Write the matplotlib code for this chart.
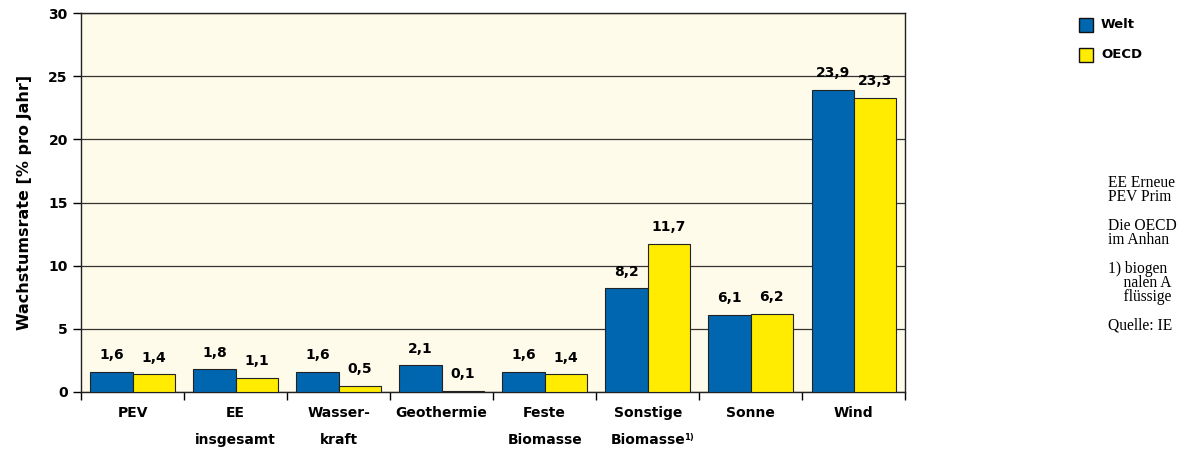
import matplotlib.pyplot as plt
import numpy as np

categories = ['PEV', 'EE\ninsgesamt', 'Wasser-\nkraft', 'Geothermie',
              'Feste\nBiomasse', 'Sonstige\nBiomasse', 'Sonne', 'Wind']
welt = [1.6, 1.8, 1.6, 2.1, 1.6, 8.2, 6.1, 23.9]
oecd = [1.4, 1.1, 0.5, 0.1, 1.4, 11.7, 6.2, 23.3]
notes = ['EE Erneue',
         'PEV Prim',
         '',
         'Die OECD',
         'im Anhan',
         '',
         '1) biogen',
         '    nalen A',
         '    flüssige',
         '',
         'Quelle: IE']

BLUE = '#0066b0'
YELLOW = '#ffec00'
BG = '#fffbeb'

plt.rcParams['font.family'] = ['DejaVu Sans']

fig = plt.figure(figsize=(11.86, 4.66), dpi=100)
ax = fig.add_axes([0.0683, 0.1588, 0.695, 0.8133])
ax.set_facecolor(BG)

x = np.arange(len(categories))
w = 0.41
b1 = ax.bar(x - w / 2, welt, w, color=BLUE, edgecolor='#222222', linewidth=0.8, zorder=3)
b2 = ax.bar(x + w / 2, oecd, w, color=YELLOW, edgecolor='#222222', linewidth=0.8, zorder=3)

for bars, vals in ((b1, welt), (b2, oecd)):
    for rect, v in zip(bars, vals):
        ax.annotate(f'{v:.1f}'.replace('.', ','),
                    (rect.get_x() + rect.get_width() / 2, v),
                    xytext=(0, 7), textcoords='offset points',
                    ha='center', va='bottom', fontsize=10, fontweight='bold')

ax.set_xlim(-0.5, len(categories) - 0.5)
ax.set_ylim(0, 30)
ax.set_yticks(range(0, 31, 5))
ax.yaxis.grid(True, color='#333333', linewidth=0.9, zorder=0)
ax.set_axisbelow(True)

# category labels centred, tick marks between groups
ax.set_xticks(np.arange(-0.5, len(categories)), minor=False)
ax.set_xticklabels([])
ax.set_xticks(x, minor=True)
ax.set_xticklabels(categories, minor=True, fontsize=10, fontweight='bold',
                   linespacing=2.2, va='top')
ax.tick_params(axis='x', which='minor', length=0, pad=10)
ax.tick_params(axis='x', which='major', length=6, width=1, direction='out')
ax.tick_params(axis='y', length=6, width=1, direction='out', labelsize=10)
for lbl in ax.get_yticklabels():
    lbl.set_fontweight('bold')

for side in ('left', 'bottom', 'right', 'top'):
    ax.spines[side].set_color('#222222')
    ax.spines[side].set_linewidth(1)

# footnote marker on "Biomasse"
ax.annotate('1)', (5.35, 0), xycoords=('data', 'axes fraction'),
            xytext=(0, -33), textcoords='offset points',
            fontsize=6, fontweight='bold', ha='left', va='center')

ax.set_ylabel('Wachstumsrate [% pro Jahr]', fontsize=11.5, fontweight='bold', labelpad=12)

# legend
fig.patches.append(plt.Rectangle((1079 / 1186, 1 - 32 / 466), 14 / 1186, 14 / 466,
                                 transform=fig.transFigure, facecolor=BLUE,
                                 edgecolor='#111111', linewidth=1))
fig.patches.append(plt.Rectangle((1079 / 1186, 1 - 62 / 466), 14 / 1186, 14 / 466,
                                 transform=fig.transFigure, facecolor=YELLOW,
                                 edgecolor='#111111', linewidth=1))
fig.text(1101 / 1186, 1 - 25 / 466, 'Welt', fontsize=9.5, fontweight='bold', va='center')
fig.text(1101 / 1186, 1 - 55 / 466, 'OECD', fontsize=9.5, fontweight='bold', va='center')

# side notes
y0 = 183
for i, line in enumerate(notes):
    if line:
        fig.text(1108 / 1186, 1 - (y0 + 14.3 * i) / 466, line, fontsize=11.2,
                 family='Liberation Serif', va='center', ha='left')

fig.savefig('out.png', dpi=100, facecolor='white')
